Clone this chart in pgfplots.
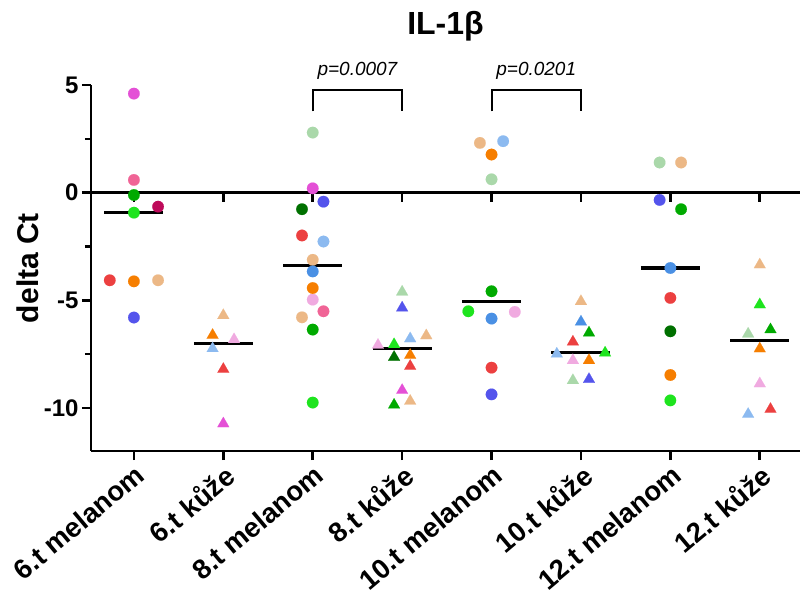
\documentclass[border=0pt]{standalone}
\usepackage{fontspec}
\setmainfont{Liberation Sans}
\usepackage{pgfplots}
\pgfplotsset{compat=1.18}
\definecolor{cMag}{RGB}{228,80,214}
\definecolor{cHot}{RGB}{240,100,150}
\definecolor{cGreen}{RGB}{0,170,0}
\definecolor{cDMag}{RGB}{190,10,90}
\definecolor{cBGreen}{RGB}{30,228,30}
\definecolor{cRed}{RGB}{236,64,64}
\definecolor{cOrange}{RGB}{246,126,0}
\definecolor{cTan}{RGB}{236,184,134}
\definecolor{cBlue}{RGB}{84,84,236}
\definecolor{cLBlue}{RGB}{140,186,240}
\definecolor{cMBlue}{RGB}{74,144,228}
\definecolor{cLPink}{RGB}{240,170,224}
\definecolor{cLGreen}{RGB}{170,216,170}
\definecolor{cDGreen}{RGB}{0,112,0}
\pgfplotsset{
  circ/.style={only marks, mark=*, mark size=5.8pt, color=#1, mark options={solid, fill=#1, draw=#1, line width=0.1pt}},
  tri/.style={only marks, mark=triangle*, mark size=6.8pt, color=#1, mark options={solid, fill=#1, draw=#1, line width=0.1pt}},
}
\begin{document}
\begin{tikzpicture}
\begin{axis}[name=ax, scale only axis, width=709pt, height=366pt,
  xmin=-0.48, xmax=7.45, ymin=-12, ymax=5,
  axis lines=left, axis line style={-, line width=2.6pt},
  clip=false,
  xtick={0,...,7},
  xticklabels={6.t melanom, 6.t kůže, 8.t melanom, 8.t kůže, 10.t melanom, 10.t kůže, 12.t melanom, 12.t kůže},
  x tick label style={rotate=40, anchor=north east, font=\fontsize{27.5}{32}\selectfont\bfseries, inner sep=2pt},
  ytick={-10,-5,0,5}, yticklabels={-10,-5,0,5},
  minor ytick={-7.5,-2.5,2.5},
  y tick label style={font=\fontsize{24}{28}\selectfont\bfseries},
  tick align=outside, major tick length=9pt, minor tick length=6pt,
  every tick/.style={line width=2.6pt, black},
  ylabel={delta Ct},
  ylabel style={font=\fontsize{30}{34}\selectfont\bfseries, at={(axis description cs:-0.089,0.5)}, anchor=center},
  title={IL-1β},
  title style={at={(axis description cs:0.5,1)}, anchor=base, yshift=44pt, font=\fontsize{32}{36}\selectfont\bfseries},
]
% zero line with category ticks
\addplot[black, line width=2.6pt] coordinates {(-0.48,0) (7.45,0)};
\pgfplotsinvokeforeach{0,...,7}{\addplot[black, line width=2.6pt] coordinates {(#1,0) (#1,-0.45)};}
% brackets
\addplot[black, line width=2pt] coordinates {(2,3.77) (2,4.79) (3,4.79) (3,3.77)};
\addplot[black, line width=2pt] coordinates {(4,3.77) (4,4.79) (5,4.79) (5,3.77)};
\node[anchor=base, font=\fontsize{19}{22}\selectfont\itshape] at (axis cs:2.5,5.44) {p=0.0007};
\node[anchor=base, font=\fontsize{19}{22}\selectfont\itshape] at (axis cs:4.5,5.44) {p=0.0201};
% points
\addplot[circ=cLGreen] coordinates {(2,2.79) (4,0.62) (5.88,1.4)};
\addplot[tri=cLGreen] coordinates {(3,-4.61) (4.91,-8.72) (6.87,-6.56)};
\addplot[circ=cTan] coordinates {(0.27,-4.07) (2,-3.12) (1.88,-5.79) (3.87,2.31) (6.12,1.4)};
\addplot[tri=cTan] coordinates {(1,-5.7) (3.27,-6.64) (3.09,-9.68) (5,-5.05) (7,-3.35)};
\addplot[circ=cLBlue] coordinates {(2.12,-2.27) (4.13,2.39)};
\addplot[tri=cLBlue] coordinates {(0.88,-7.24) (3.09,-6.78) (4.73,-7.49) (6.87,-10.29)};
\addplot[circ=cLPink] coordinates {(2,-4.97) (4.26,-5.54)};
\addplot[tri=cLPink] coordinates {(1.12,-6.82) (2.73,-7.08) (4.91,-7.79) (7,-8.87)};
\addplot[circ=cMag] coordinates {(0,4.6) (2,0.2)};
\addplot[tri=cMag] coordinates {(1,-10.73) (3,-9.18)};
\addplot[circ=cHot] coordinates {(0,0.59) (2.12,-5.51)};
\addplot[circ=cDMag] coordinates {(0.27,-0.65)};
\addplot[circ=cGreen] coordinates {(0,-0.11) (2,-6.36) (4,-4.58) (6.12,-0.77)};
\addplot[tri=cGreen] coordinates {(2.91,-9.86) (5.09,-6.51) (7.12,-6.36)};
\addplot[circ=cBGreen] coordinates {(0,-0.93) (2,-9.75) (3.74,-5.51) (6,-9.65)};
\addplot[tri=cBGreen] coordinates {(2.91,-7.05) (5.27,-7.44) (7,-5.2)};
\addplot[circ=cDGreen] coordinates {(1.88,-0.77) (6,-6.44)};
\addplot[tri=cDGreen] coordinates {(2.91,-7.64)};
\addplot[circ=cRed] coordinates {(-0.27,-4.07) (1.88,-1.99) (4,-8.13) (6,-4.89)};
\addplot[tri=cRed] coordinates {(1,-8.2) (3.09,-8.06) (4.91,-6.93) (7.12,-10.06)};
\addplot[circ=cOrange] coordinates {(0,-4.12) (2,-4.43) (4,1.77) (6,-8.47)};
\addplot[tri=cOrange] coordinates {(0.88,-6.62) (3.09,-7.55) (5.09,-7.79) (7,-7.25)};
\addplot[circ=cBlue] coordinates {(0,-5.8) (2.12,-0.42) (4,-9.37) (5.88,-0.34)};
\addplot[tri=cBlue] coordinates {(3,-5.35) (5.09,-8.67)};
\addplot[circ=cMBlue] coordinates {(2,-3.66) (4,-5.85) (6,-3.5)};
\addplot[tri=cMBlue] coordinates {(5,-6.0)};
% medians
\addplot[black, line width=3.2pt] coordinates {(-0.33,-0.93) (0.33,-0.93)};
\addplot[black, line width=3.2pt] coordinates {(0.67,-7.0) (1.33,-7.0)};
\addplot[black, line width=3.2pt] coordinates {(1.67,-3.39) (2.33,-3.39)};
\addplot[black, line width=3.2pt] coordinates {(2.67,-7.25) (3.33,-7.25)};
\addplot[black, line width=3.2pt] coordinates {(3.67,-5.05) (4.33,-5.05)};
\addplot[black, line width=3.2pt] coordinates {(4.67,-7.44) (5.33,-7.44)};
\addplot[black, line width=3.2pt] coordinates {(5.67,-3.5) (6.33,-3.5)};
\addplot[black, line width=3.2pt] coordinates {(6.67,-6.87) (7.33,-6.87)};
\end{axis}
\pgfresetboundingbox
\path ([xshift=-91pt,yshift=-149pt]ax.south west) rectangle ([xshift=3pt,yshift=85pt]ax.north east);
\end{tikzpicture}
\end{document}
